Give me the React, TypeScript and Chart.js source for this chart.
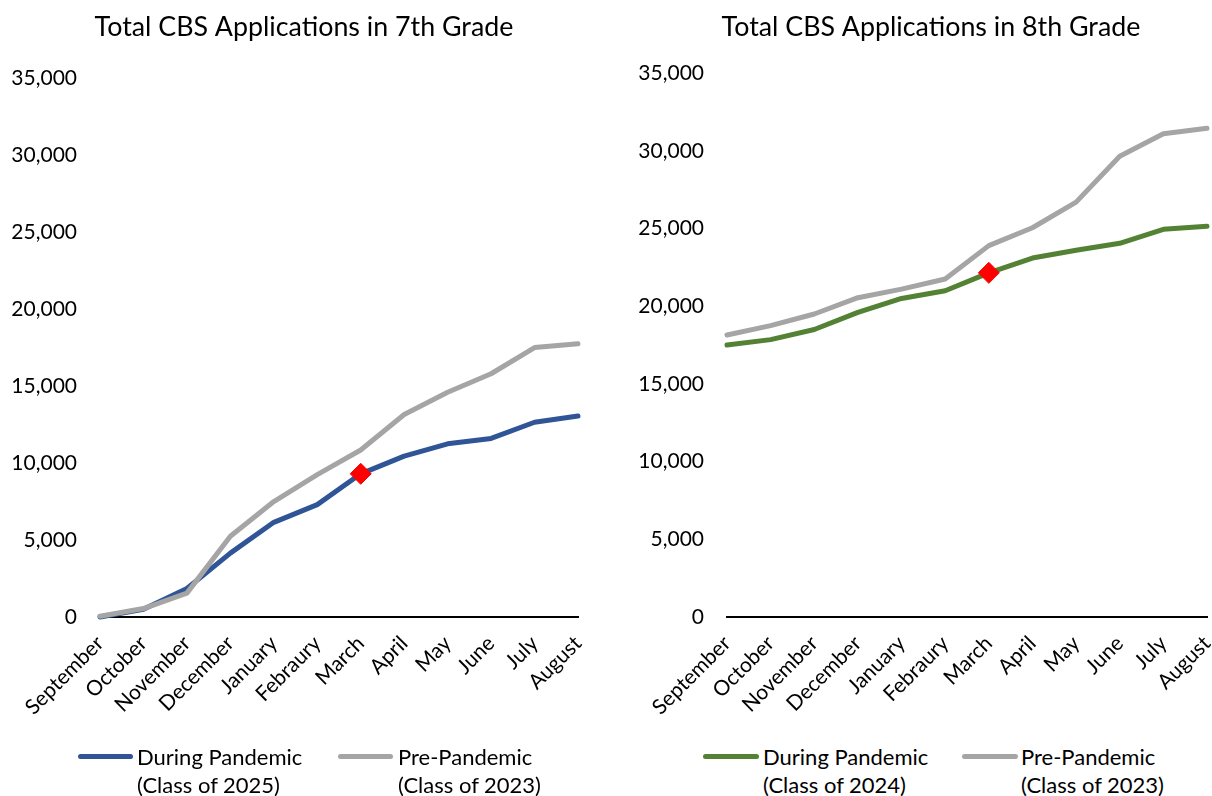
import React, { useEffect, useRef } from "react";
import { Chart, registerables } from "chart.js";

Chart.register(...registerables);

// ---------- data ----------
const months = [
  "September", "October", "November", "December", "January", "Febraury",
  "March", "April", "May", "June", "July", "August",
];
const grade7During = [0, 500, 1850, 4150, 6150, 7300, 9300, 10450, 11250, 11600, 12650, 13050];
const grade7Pre = [50, 550, 1550, 5250, 7500, 9250, 10850, 13150, 14600, 15800, 17500, 17750];
const grade8During = [17500, 17850, 18500, 19600, 20500, 21000, 22150, 23100, 23600, 24050, 24950, 25150];
const grade8Pre = [18150, 18750, 19500, 20550, 21100, 21750, 23900, 25050, 26700, 29650, 31100, 31450];
const yMin = 0;
const yMax = 35000;
const yStep = 5000;
const markerMonth = "March";
const title7 = "Total CBS Applications in 7th Grade";
const title8 = "Total CBS Applications in 8th Grade";
const duringLabel7 = ["During Pandemic", "(Class of 2025)"];
const duringLabel8 = ["During Pandemic", "(Class of 2024)"];
const preLabel = ["Pre-Pandemic", "(Class of 2023)"];

// ---------- styles ----------
const FONT = "Lato, 'Open Sans', sans-serif";
const BLUE = "#2F5597";
const GREEN = "#548235";
const GRAY = "#A5A5A5";
const RED = "#FF0000";
const CANVAS_H = 720;
const X_AXIS_H = 103;

type PanelProps = {
  left: number;
  width: number;
  title: string;
  during: number[];
  pre: number[];
  duringColor: string;
  duringText: string[];
  preText: string[];
  plotRightGap: number;
  yAxisW: number;
  titleBottom: number;
  legendX: number[]; // [line1 start, text1 start, line2 start, text2 start] in panel coords
  legendLineW: number;
};

function Panel(p: PanelProps) {
  const ref = useRef<HTMLCanvasElement | null>(null);
  useEffect(() => {
    if (!ref.current) return;
    const markerIdx = months.indexOf(markerMonth);
    const chart = new Chart(ref.current, {
      type: "line",
      data: {
        labels: months,
        datasets: [
          {
            label: p.duringText.join(" "),
            data: p.during,
            borderColor: p.duringColor,
            backgroundColor: p.duringColor,
            borderWidth: 5,
            borderJoinStyle: "round",
            borderCapStyle: "round",
            tension: 0,
            clip: false,
            order: 1,
            pointStyle: "rectRot",
            pointRadius: months.map((_, i) => (i === markerIdx ? 10.5 : 0)),
            pointHoverRadius: 0,
            pointBackgroundColor: RED,
            pointBorderColor: RED,
            pointBorderWidth: 1,
          },
          {
            label: p.preText.join(" "),
            data: p.pre,
            borderColor: GRAY,
            backgroundColor: GRAY,
            borderWidth: 5,
            borderJoinStyle: "round",
            borderCapStyle: "round",
            tension: 0,
            clip: false,
            order: 0,
            pointRadius: 0,
            pointHoverRadius: 0,
          },
        ],
      },
      options: {
        responsive: false,
        animation: false,
        events: [],
        layout: { padding: 0 },
        plugins: {
          legend: { display: false },
          tooltip: { enabled: false },
          title: {
            display: true,
            text: p.title,
            color: "#000",
            font: { family: FONT, size: 26.8, weight: "normal" },
            padding: { top: 11, bottom: p.titleBottom },
          },
        },
        scales: {
          x: {
            type: "category",
            offset: false,
            grid: { display: false, drawTicks: false },
            border: { display: true, color: "#000", width: 2 },
            ticks: {
              color: "#000",
              font: { family: FONT, size: 21 },
              autoSkip: false,
              maxRotation: 45,
              minRotation: 45,
              padding: 14,
            },
            afterFit: (s: any) => {
              s.height = X_AXIS_H;
              s.paddingLeft = 0;
              s.paddingRight = p.plotRightGap;
            },
          },
          y: {
            min: yMin,
            max: yMax,
            grid: { display: false, drawTicks: false },
            border: { display: false },
            ticks: {
              stepSize: yStep,
              color: "#000",
              font: { family: FONT, size: 21 },
              padding: 23,
              callback: (v: any) => Number(v).toLocaleString("en-US"),
            },
            afterFit: (s: any) => {
              s.width = p.yAxisW;
              s.paddingTop = 0;
              s.paddingBottom = 0;
            },
          },
        },
      },
    });
    return () => chart.destroy();
  }, []);

  const textStyle: React.CSSProperties = {
    position: "absolute",
    top: 743,
    fontFamily: FONT,
    fontSize: 22,
    lineHeight: "28px",
    color: "#000",
    whiteSpace: "nowrap",
  };
  const lineStyle = (color: string, x: number): React.CSSProperties => ({
    position: "absolute",
    left: x,
    top: 754,
    width: p.legendLineW,
    height: 5,
    borderRadius: 3,
    background: color,
  });

  return (
    <div style={{ position: "absolute", left: p.left, top: 0, width: p.width, height: 796 }}>
      <canvas ref={ref} width={p.width} height={CANVAS_H} style={{ width: p.width, height: CANVAS_H, display: "block" }} />
      <div style={lineStyle(p.duringColor, p.legendX[0])} />
      <div style={{ ...textStyle, left: p.legendX[1] }}>
        {p.duringText[0]}
        <br />
        {p.duringText[1]}
      </div>
      <div style={lineStyle(GRAY, p.legendX[2])} />
      <div style={{ ...textStyle, left: p.legendX[3] }}>
        {p.preText[0]}
        <br />
        {p.preText[1]}
      </div>
    </div>
  );
}

export default function App() {
  return (
    <div
      style={{
        position: "absolute",
        left: 0,
        top: 0,
        width: 1212,
        height: 796,
        overflow: "hidden",
        background: "#fff",
      }}
    >
      <Panel
        left={606}
        width={650}
        title={title8}
        during={grade8During}
        pre={grade8Pre}
        duringColor={GREEN}
        duringText={duringLabel8}
        preText={preLabel}
        plotRightGap={49}
        yAxisW={121}
        titleBottom={30}
        legendX={[97, 157, 356, 415]}
        legendLineW={56}
      />
      <Panel
        left={0}
        width={608}
        title={title7}
        during={grade7During}
        pre={grade7Pre}
        duringColor={BLUE}
        duringText={duringLabel7}
        preText={preLabel}
        plotRightGap={30}
        yAxisW={100}
        titleBottom={35}
        legendX={[78, 137, 338, 398]}
        legendLineW={55}
      />
    </div>
  );
}
